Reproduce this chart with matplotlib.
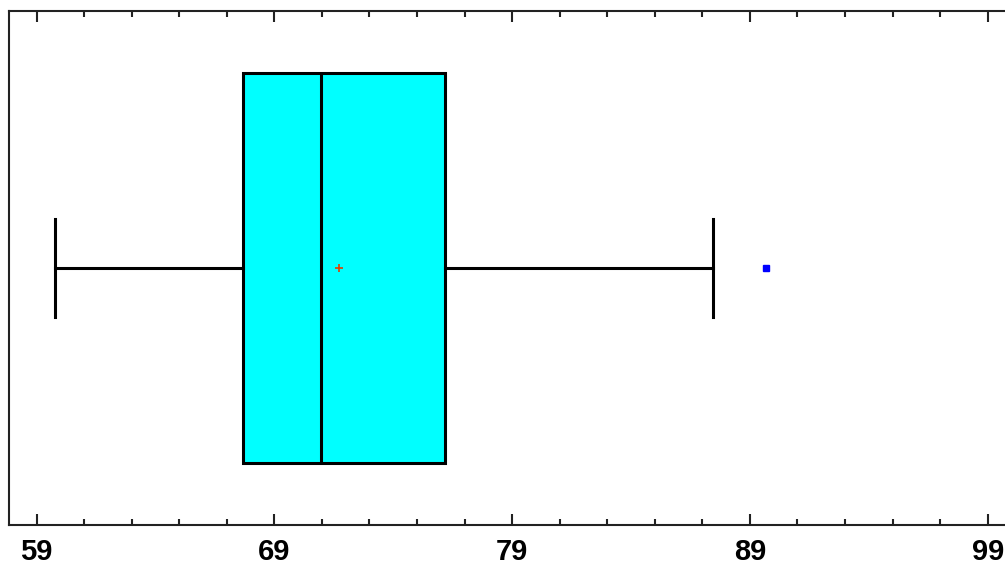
import numpy as np
import matplotlib.pyplot as plt
from matplotlib.ticker import MultipleLocator

# Box-and-whisker summary
whis_lo = 59.77
q1 = 67.68
median = 70.96
mean = 71.71
q3 = 76.17
whis_hi = 87.44
outliers = [89.67]

major_ticks = [59, 69, 79, 89, 99]

fig = plt.figure(figsize=(10.05, 5.67), dpi=100)
ax = fig.add_axes([9/1005, 42/567, 1 - 9/1005, 514/567])

stats = [dict(whislo=whis_lo, q1=q1, med=median, mean=mean, q3=q3,
              whishi=whis_hi, fliers=outliers)]
ax.bxp(stats, positions=[0.5], widths=[0.757], capwidths=[0.19],
       vert=False, patch_artist=True, showmeans=True,
       boxprops=dict(facecolor='#00FFFF', edgecolor='black', linewidth=2.2),
       medianprops=dict(color='black', linewidth=2.2),
       whiskerprops=dict(color='black', linewidth=2.2),
       capprops=dict(color='black', linewidth=2.2),
       meanprops=dict(marker='+', markeredgecolor='#E04000', markersize=6,
                      markeredgewidth=1.2),
       flierprops=dict(marker='s', markerfacecolor='blue',
                       markeredgecolor='blue', markersize=4.5))

ax.set_xlim(57.84, 99.73)
ax.set_ylim(0, 1)
ax.set_yticks([])
ax.set_xticks(major_ticks)
ax.set_xticks(np.arange(61, 100, 2), minor=True)
ax.tick_params(axis='x', which='both', direction='in', top=True, bottom=True,
               width=1.5, color='#222222')
ax.tick_params(axis='x', which='major', length=8, pad=9)
ax.tick_params(axis='x', which='minor', length=4.5)
for lab in ax.get_xticklabels():
    lab.set_fontfamily('Liberation Sans')
    lab.set_fontweight('bold')
    lab.set_fontsize(21)
for side in ['left', 'bottom', 'top']:
    ax.spines[side].set_linewidth(1.5)
    ax.spines[side].set_color('#222222')
ax.spines['right'].set_visible(False)

fig.savefig('out.png', dpi=100)
